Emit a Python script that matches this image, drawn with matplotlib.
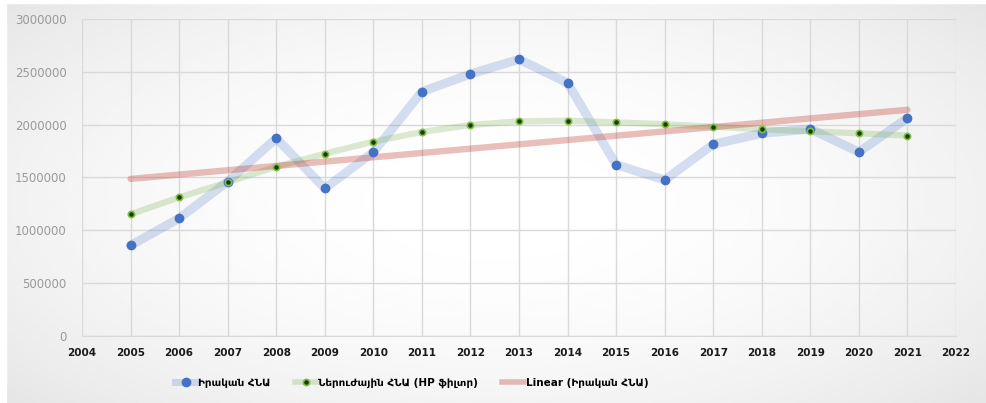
import numpy as np
from matplotlib import pyplot as plt
from matplotlib.patches import Rectangle
from matplotlib.lines import Line2D

# data
years = np.arange(2005, 2022)
real_gdp = [855000, 1112000, 1460000, 1870000, 1396000, 1737000, 2311000, 2479000, 2618000,
            2394000, 1620000, 1475000, 1813000, 1917000, 1958000, 1740000, 2062000]
hp_gdp = [1150000, 1311000, 1453000, 1601000, 1724000, 1838000, 1930000, 1996000, 2031000,
          2037000, 2021000, 2003000, 1980000, 1955000, 1936000, 1917000, 1895000]
x_ticks = np.arange(2004, 2023)
y_ticks = np.arange(0, 3000001, 500000)

label_real = "Իրական ՀՆԱ"
label_hp = "Ներուժային ՀՆԱ (HP ֆիլտր)"
label_lin = "Linear (Իրական ՀՆԱ)"

plt.rcParams['font.family'] = ['DejaVu Sans']

fig = plt.figure(figsize=(9.87, 4.03), dpi=100)

# soft radial background like the office chart style
bg = fig.add_axes([0, 0, 1, 1], zorder=-10)
gx, gy = np.meshgrid(np.linspace(-1, 1, 400), np.linspace(-1, 1, 200))
r = np.sqrt((gx * 0.9) ** 2 + (gy * 0.8) ** 2)
shade = 1.0 - 0.07 * np.clip(r, 0, 1.2) ** 2
bg.imshow(shade, cmap='gray', vmin=0, vmax=1, aspect='auto', extent=[0, 1, 0, 1])
bg.add_patch(Rectangle((6 / 987, -0.01), 1.0, 1 - 3 / 403 + 0.01, fill=False,
                       edgecolor='#d6d6d6', linewidth=1.2, transform=bg.transAxes))
bg.add_patch(Rectangle((0, 1 - 3 / 403), 1, 3 / 403, color='white', transform=bg.transAxes))
bg.add_patch(Rectangle((0, 0), 6 / 987, 1, color='white', transform=bg.transAxes))
bg.set_xlim(0, 1)
bg.set_ylim(0, 1)
bg.axis('off')

ax = fig.add_axes([82 / 987, 1 - 335.7 / 403, (956 - 82) / 987, (335.7 - 19) / 403])
ax.patch.set_alpha(0)

# linear trend fitted to the actual series
coef = np.polyfit(years, real_gdp, 1)
trend = np.polyval(coef, years)

ax.plot(years, real_gdp, color='#4472C4', alpha=0.22, linewidth=6.5, solid_capstyle='round',
        solid_joinstyle='round', zorder=2)
ax.plot(years, hp_gdp, color='#70AD47', alpha=0.25, linewidth=4.5, solid_capstyle='round',
        solid_joinstyle='round', zorder=3)
ax.plot(years, trend, color='#c0392b', alpha=0.32, linewidth=4.6, solid_capstyle='round', zorder=4)
ax.plot(years, real_gdp, linestyle='none', marker='o', markersize=6, color='#4472C4', zorder=5)
ax.plot(years, hp_gdp, linestyle='none', marker='o', markersize=4.5, markerfacecolor='#1f3a0a',
        markeredgecolor='#7cc242', markeredgewidth=1.2, zorder=6)

ax.set_xlim(2004, 2022)
ax.set_ylim(0, 3000000)
ax.set_xticks(x_ticks)
ax.set_yticks(y_ticks)
ax.set_yticklabels([str(v) for v in y_ticks])
ax.grid(True, color='#d9d9d9', linewidth=1)
ax.set_axisbelow(True)
for side in ['top', 'right', 'left']:
    ax.spines[side].set_visible(False)
ax.spines['bottom'].set_color('#d9d9d9')
ax.tick_params(axis='both', length=0)
ax.tick_params(axis='y', labelsize=8.5, labelcolor='#9a9a9a', pad=11)
ax.tick_params(axis='x', labelsize=7.5, labelcolor='#1a1a1a', pad=9)
for t in ax.get_xticklabels():
    t.set_fontweight('bold')

hand1 = (Line2D([], [], color='#4472C4', alpha=0.22, linewidth=5),
         Line2D([], [], color='#4472C4', marker='o', markersize=6, linestyle='none'))
hand2 = (Line2D([], [], color='#70AD47', alpha=0.25, linewidth=4),
         Line2D([], [], marker='o', markersize=4.5, linestyle='none', markerfacecolor='#1f3a0a',
                markeredgecolor='#7cc242', markeredgewidth=1.2))
hand3 = Line2D([], [], color='#c0392b', alpha=0.32, linewidth=4)

fig.legend([hand1, hand2, hand3], [label_real, label_hp, label_lin], loc='center',
           bbox_to_anchor=(0.417, 1 - 382.7 / 403), ncol=3, frameon=False,
           prop={'size': 7.5, 'weight': 'bold'}, handlelength=2.1, handletextpad=0.15,
           columnspacing=2.3)

fig.savefig('out.png', dpi=100)
